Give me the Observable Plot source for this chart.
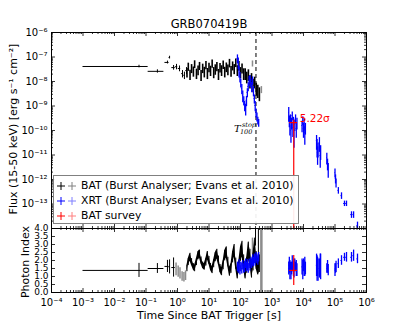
<!DOCTYPE html>
<html><head><meta charset="utf-8">
<script src="https://cdn.jsdelivr.net/npm/d3@7"></script>
<script src="https://cdn.jsdelivr.net/npm/@observablehq/plot@0.6"></script>
<style>
body{margin:0;background:#fff;font-family:"DejaVu Sans",sans-serif;}
#wrap{position:relative;width:407px;height:326px;overflow:hidden;background:#fff;}
#wrap svg{position:absolute;left:0;overflow:visible;}
.lbl{position:absolute;font-size:11px;color:#000;white-space:nowrap;}
.rot{transform:translate(-50%,-50%) rotate(-90deg);}
#legend{position:absolute;left:53px;top:175px;width:244px;height:47px;border:1px solid #808080;background:rgba(255,255,255,0.92);}
#legend .row{position:absolute;left:0;height:14px;font-size:10.8px;line-height:14px;}
#legend .row span{position:absolute;left:27px;white-space:nowrap;}
#legend .row svg{position:absolute;left:2px;top:0;}
</style></head><body><div id="wrap"></div>
<script>
// ---------- data ----------
const titleText = "GRB070419B";
const xTickVals = [1e-4,1e-3,1e-2,1e-1,1e0,1e1,1e2,1e3,1e4,1e5,1e6];
const xTickLabels = ["10⁻⁴","10⁻³","10⁻²","10⁻¹","10⁰","10¹","10²","10³","10⁴","10⁵","10⁶"];
const fluxTickVals = [1e-6,1e-7,1e-8,1e-9,1e-10,1e-11,1e-12,1e-13];
const fluxTickLabels = ["10⁻⁶","10⁻⁷","10⁻⁸","10⁻⁹","10⁻¹⁰","10⁻¹¹","10⁻¹²","10⁻¹³"];
const idxTickVals = [0,0.5,1,1.5,2,2.5,3,3.5,4];
const idxTickLabels = ["0.0","0.5","1.0","1.5","2.0","2.5","3.0","3.5","4.0"];

// BAT flux, early bins with time ranges
const batEarlyT   = [0.06, 0.23, 0.48, 0.56, 0.75, 0.93, 1.16, 1.44, 1.66, 1.93];
const batEarlyTLo = [0.001, 0.117, 0.40, 0.54, 0.66, 0.86, 1.06, 1.36, 1.58, 1.84];
const batEarlyTHi = [0.117, 0.37, 0.54, 0.58, 0.85, 1.02, 1.26, 1.52, 1.75, 2.02];
const batEarlyF   = [4.1e-8, 2.6e-8, 6.0e-8, 9.5e-8, 3.7e-8, 4.0e-8, 3.4e-8, 2.1e-8, 1.8e-8, 2.8e-8];
const batEarlyFErr= [0.5e-8, 0.4e-8, 0.8e-8, 1.2e-8, 0.8e-8, 1.0e-8, 0.9e-8, 0.7e-8, 0.6e-8, 0.9e-8];

// BAT flux / photon index, dense bins
const batT = [2.0,2.2,2.5,2.8,3.2,3.5,4.0,4.5,5.0,5.6,6.3,7.1,8.0,8.9,10,11.2,12.6,14.1,15.8,17.8,20,22.4,25.1,28.2,31.6,35.5,39.8,44.7,50.1,56.2,63.1,70.8,79.4,89.1,100,112,126,141,158,178,200,224,251,282,316,355,398];
const batF = [2.4e-8,4.1e-8,2.0e-8,3.5e-8,2.7e-8,5.2e-8,2.2e-8,3.0e-8,4.4e-8,1.9e-8,3.6e-8,2.6e-8,4.8e-8,2.3e-8,3.9e-8,2.9e-8,5.5e-8,2.5e-8,3.3e-8,4.2e-8,2.1e-8,3.8e-8,3.0e-8,5.0e-8,2.6e-8,4.0e-8,3.2e-8,5.8e-8,2.8e-8,4.5e-8,3.4e-8,6.0e-8,3.0e-8,4.6e-8,2.5e-8,3.6e-8,2.2e-8,2.2e-8,1.6e-8,2.0e-8,1.1e-8,1.4e-8,0.8e-8,1.0e-8,0.55e-8,0.45e-8,0.35e-8];
const batFErr = [1.0e-8,1.5e-8,0.9e-8,1.4e-8,1.2e-8,1.8e-8,1.0e-8,1.3e-8,1.6e-8,0.9e-8,1.5e-8,1.2e-8,1.8e-8,1.1e-8,1.6e-8,1.3e-8,2.0e-8,1.2e-8,1.5e-8,1.7e-8,1.0e-8,1.6e-8,1.4e-8,1.9e-8,1.2e-8,1.7e-8,1.5e-8,2.2e-8,1.3e-8,1.8e-8,1.5e-8,2.3e-8,1.4e-8,1.9e-8,1.2e-8,1.6e-8,1.1e-8,1.1e-8,0.8e-8,1.0e-8,0.6e-8,0.7e-8,0.45e-8,0.5e-8,0.3e-8,0.25e-8,0.2e-8];
const batIdx = [1.5,1.9,2.2,1.9,1.6,1.5,1.9,2.3,2.4,2.0,1.7,1.6,1.9,2.3,2.0,1.6,1.4,1.8,2.2,2.4,2.0,1.5,1.3,1.7,2.3,2.5,1.9,1.3,1.5,2.2,2.6,1.8,1.2,1.6,2.4,2.7,1.9,1.3,1.7,2.6,2.2,1.4,1.9,2.8,2.0,1.6,1.8];
const batIdxErr = [0.2,0.22,0.25,0.22,0.2,0.2,0.22,0.25,0.25,0.22,0.2,0.2,0.24,0.26,0.25,0.22,0.22,0.25,0.28,0.3,0.28,0.25,0.25,0.28,0.32,0.35,0.3,0.28,0.3,0.35,0.4,0.35,0.35,0.4,0.45,0.5,0.45,0.45,0.5,0.55,0.5,0.5,0.55,0.6,0.55,0.5,0.55];

// BAT photon index, early bins
const batIdxEarlyT   = [0.06, 0.23, 0.48, 0.56, 0.75];
const batIdxEarlyTLo = [0.001, 0.117, 0.40, 0.54, 0.66];
const batIdxEarlyTHi = [0.117, 0.37, 0.54, 0.58, 0.85];
const batIdxEarly    = [1.38, 1.5, 1.63, 1.6, 1.56];
const batIdxEarlyErr = [0.44, 0.31, 0.38, 0.44, 0.6];
// BAT low-significance (grey) bins
const batGreyIdxT   = [0.9, 1.05, 1.2, 1.4, 1.6, 1.8, 240];
const batGreyIdx    = [1.45, 1.3, 1.2, 1.0, 0.95, 1.05, 2.9];
const batGreyIdxErr = [0.4, 0.35, 0.35, 0.3, 0.3, 0.3, 0.5];
const batGreyFT   = [240, 460];
const batGreyF    = [5.4e-8, 4.7e-9];
const batGreyFErr = [1.5e-8, 1.5e-9];
// unconstrained BAT index bins near T100
const batWildT = [300, 370];
const batWildIdx = [3.6, 3.3];
const batWildErr = [0.7, 1.8];
const batWideT = [460];
const batWideIdx = [2.0];
const batWideErr = [3.0];

// XRT
const xrtT = [80,85,90,96,102,110,118,127,136,146,155,165,176,188,200,213,227,242,258,275,293,312,333,355,378,
  3400,3550,3700,3850,4000,4200,4400,4600,4800,5000,5300,5600,5900,6200,
  9000,9500,10000,10500,11000,11500,
  26000,27000,28000,29000,32000,34000,35000,
  55000,58000,61000,100000,104000,108000,
  128000,161000,200000,232000,334000,389000,518000];
const xrtTErr = [2,2,2,2,3,3,3,3,4,4,4,4,5,5,5,6,6,6,7,7,7,8,8,9,9,
  60,60,60,60,70,70,70,80,80,80,100,100,100,100,
  200,200,200,200,200,200,
  400,400,400,400,600,600,600,
  1000,1000,1000,2000,2000,2000,
  4000,6000,12000,14000,18000,20000,24000];
const xrtF = [8.7e-8,6.0e-8,2.8e-8,1.6e-8,9.1e-9,5.2e-9,2.7e-9,1.7e-9,1.05e-9,7.9e-10,1.7e-9,3.6e-9,6.3e-9,1.1e-8,1.3e-8,9.1e-9,6.3e-9,1.1e-8,4.3e-9,2.0e-9,1.05e-9,5.4e-10,3.7e-10,2.6e-10,2.1e-10,
  5.4e-10,2.6e-10,1.5e-10,3.1e-10,1.0e-10,2.1e-10,4.1e-10,1.3e-10,2.3e-10,6.3e-11,1.8e-10,3.1e-10,1.2e-10,2.1e-10,
  1.6e-10,2.6e-10,1.2e-10,1.9e-10,8.3e-11,1.3e-10,
  3.9e-11,2.5e-11,1.26e-11,1.9e-11,3.2e-11,9.5e-12,1.5e-11,
  7.9e-12,4.5e-12,2.8e-12,1.9e-12,1.1e-12,7.5e-13,
  3.6e-13,2.2e-13,1.05e-13,1.05e-13,3.7e-14,3.7e-14,1.3e-14];
const xrtFRelErr = [0.4,0.5,0.5,0.45,0.4,0.45,0.5,0.4,0.45,0.5,0.45,0.4,0.4,0.45,0.35,0.4,0.45,0.4,0.45,0.4,0.45,0.4,0.4,0.35,0.35,
  0.6,0.5,0.6,0.4,0.7,0.5,0.4,0.6,0.5,0.7,0.5,0.4,0.6,0.5,
  0.5,0.4,0.6,0.5,0.7,0.5,
  0.6,0.7,0.7,0.6,0.6,0.7,0.6,
  0.5,0.5,0.6,0.4,0.4,0.4,
  0.3,0.3,0.25,0.25,0.3,0.3,0.4];
const xrtIdx = [1.6,1.5,1.7,1.4,1.6,1.5,1.7,1.5,1.6,1.8,1.6,1.7,1.5,1.8,1.7,1.9,1.8,2.0,1.9,2.1,2.0,2.2,2.1,2.0,2.2,
  1.5,1.7,1.4,1.6,1.3,1.5,1.8,1.6,1.4,1.5,1.7,1.6,1.5,1.4,
  1.6,1.4,1.7,1.5,1.6,1.5,
  1.7,1.5,1.6,1.4,1.5,1.7,1.6,
  1.5,1.6,1.4,1.4,1.5,1.6,
  1.8,2.0,2.2,2.2,2.2,2.3,2.1];
const xrtIdxErr = [0.3,0.3,0.35,0.3,0.3,0.35,0.3,0.3,0.35,0.3,0.3,0.35,0.3,0.3,0.35,0.3,0.3,0.35,0.3,0.3,0.35,0.3,0.3,0.3,0.3,
  0.4,0.5,0.6,0.3,0.5,0.4,0.5,0.3,0.4,0.6,0.4,0.3,0.5,0.4,
  0.5,0.6,0.4,0.5,0.6,0.4,
  0.7,0.8,0.6,0.7,0.6,0.7,0.8,
  0.3,0.4,0.35,0.4,0.3,0.35,
  0.3,0.3,0.25,0.3,0.3,0.35,0.3];

// BAT survey
const survT = [4900], survTLo = [3630], survTHi = [6460];
const survF = [2.1e-10], survFLo = [1e-16], survFHi = [2.6e-10];
const survIdx = [1.38], survIdxLo = [0.44], survIdxHi = [2.31];
const survLabel = ["5.22σ"];

// T100 stop
const t100 = [310];
const t100LabelF = [1.2e-10];

// ---------- tables ----------
const batEarlyRows = batEarlyT.map((t,i)=>({t, lo:batEarlyTLo[i], hi:batEarlyTHi[i], f:batEarlyF[i], f1:batEarlyF[i]-batEarlyFErr[i], f2:batEarlyF[i]+batEarlyFErr[i]}));
const batRows = batT.map((t,i)=>({t, f:batF[i], f1:batF[i]-batFErr[i], f2:batF[i]+batFErr[i], p:batIdx[i], p1:batIdx[i]-batIdxErr[i], p2:batIdx[i]+batIdxErr[i]}));
const batIdxEarlyRows = batIdxEarlyT.map((t,i)=>({t, lo:batIdxEarlyTLo[i], hi:batIdxEarlyTHi[i], p:batIdxEarly[i], p1:batIdxEarly[i]-batIdxEarlyErr[i], p2:batIdxEarly[i]+batIdxEarlyErr[i]}));
const greyIdxRows = batGreyIdxT.map((t,i)=>({t, p:batGreyIdx[i], p1:batGreyIdx[i]-batGreyIdxErr[i], p2:batGreyIdx[i]+batGreyIdxErr[i]}));
const greyFRows = batGreyFT.map((t,i)=>({t, f:batGreyF[i], f1:batGreyF[i]-batGreyFErr[i], f2:batGreyF[i]+batGreyFErr[i]}));
const wildRows = batWildT.map((t,i)=>({t, p1:batWildIdx[i]-batWildErr[i], p2:batWildIdx[i]+batWildErr[i]}));
const wideRows = batWideT.map((t,i)=>({t, p1:batWideIdx[i]-batWideErr[i], p2:batWideIdx[i]+batWideErr[i]}));
const xrtRows = xrtT.map((t,i)=>({t, lo:t-xrtTErr[i], hi:t+xrtTErr[i], f:xrtF[i], f1:xrtF[i]*(1-xrtFRelErr[i]), f2:xrtF[i]*(1+xrtFRelErr[i]), p:xrtIdx[i], p1:xrtIdx[i]-xrtIdxErr[i], p2:xrtIdx[i]+xrtIdxErr[i]}));
const survRows = survT.map((t,i)=>({t, lo:survTLo[i], hi:survTHi[i], f:survF[i], f1:survFLo[i], f2:survFHi[i], p:survIdx[i], p1:survIdxLo[i], p2:survIdxHi[i], label:survLabel[i]}));

// ---------- layout ----------
const W = 407, ML = 51, MR = 41, IW = W - ML - MR;
const TOP = 32, MID = 228, BOT = 292;
const H1 = MID - TOP, H2 = BOT - MID;
const BLUE = "#0000ff", RED = "#ff0000", GREY = "#8c8c8c";

const xMinor = [];
for (let k = -4; k < 6; k++) for (let m = 2; m < 10; m++) xMinor.push(m * Math.pow(10, k));
const yMinor = [];
for (let k = -14; k < -6; k++) for (let m = 2; m < 10; m++) yMinor.push(m * Math.pow(10, k));

function frameTicks(xs, ys, ih, len) {
  return [
    Plot.tickX(xs, {x: d=>d, insetTop: ih - len, stroke: "black", strokeWidth: 0.8}),
    Plot.tickX(xs, {x: d=>d, insetBottom: ih - len, stroke: "black", strokeWidth: 0.8}),
    Plot.tickY(ys, {y: d=>d, insetRight: IW - len, stroke: "black", strokeWidth: 0.8}),
    Plot.tickY(ys, {y: d=>d, insetLeft: IW - len, stroke: "black", strokeWidth: 0.8})
  ];
}

const fluxPlot = Plot.plot({
  width: W, height: MID, marginTop: TOP, marginBottom: 0, marginLeft: ML, marginRight: MR,
  style: {fontFamily: "DejaVu Sans, sans-serif", fontSize: "10px", overflow: "visible", background: "transparent"},
  x: {type: "log", domain: [1e-4, 1e6], axis: null},
  y: {type: "log", domain: [1e-14, 1e-6], axis: null},
  marks: [
    Plot.ruleX(t100, {x: d=>d, stroke: "black", strokeWidth: 1, strokeDasharray: "4,3"}),
    // BAT
    Plot.ruleY(batEarlyRows, {y: "f", x1: "lo", x2: "hi", stroke: "black", strokeWidth: 1}),
    Plot.ruleX(batEarlyRows, {x: "t", y1: "f1", y2: "f2", stroke: "black", strokeWidth: 1}),
    Plot.ruleX(batRows, {x: "t", y1: "f1", y2: "f2", stroke: "black", strokeWidth: 1.6}),
    Plot.ruleX(greyFRows, {x: "t", y1: "f1", y2: "f2", stroke: GREY, strokeWidth: 1.5}),
    // XRT
    Plot.ruleX(xrtRows, {x: "t", y1: "f1", y2: "f2", stroke: BLUE, strokeWidth: 1.3, clip: true}),
    Plot.ruleY(xrtRows, {y: "f", x1: "lo", x2: "hi", stroke: BLUE, strokeWidth: 1, clip: true}),
    // BAT survey
    Plot.ruleX(survRows, {x: "t", y1: "f1", y2: "f2", stroke: RED, strokeWidth: 1.2, clip: true}),
    Plot.ruleY(survRows, {y: "f", x1: "lo", x2: "hi", stroke: RED, strokeWidth: 1.2}),
    Plot.text(survRows, {x: "t", y: "f", text: "label", fill: RED, fontSize: 10.5, textAnchor: "start", lineAnchor: "bottom", dx: 6, dy: -1}),
    // T100 label
    Plot.text(t100, {x: d=>d, y: t100LabelF, text: ["T"], fontFamily: "DejaVu Serif, serif", fontStyle: "italic", fontSize: 10, textAnchor: "start", lineAnchor: "bottom", dx: -22, dy: 3}),
    Plot.text(t100, {x: d=>d, y: t100LabelF, text: ["stop"], fontFamily: "DejaVu Serif, serif", fontStyle: "italic", fontSize: 6.5, textAnchor: "start", lineAnchor: "bottom", dx: -14, dy: -2}),
    Plot.text(t100, {x: d=>d, y: t100LabelF, text: ["100"], fontFamily: "DejaVu Serif, serif", fontStyle: "italic", fontSize: 6.5, textAnchor: "start", lineAnchor: "bottom", dx: -16, dy: 5.5}),
    ...frameTicks(xTickVals, fluxTickVals.concat([1e-14]), H1, 4),
    ...frameTicks(xMinor, yMinor, H1, 2),
    Plot.axisY(fluxTickVals, {tickSize: 0, tickPadding: 4, tickFormat: d => fluxTickLabels[fluxTickVals.indexOf(d)], fontSize: 10, label: null}),
    Plot.frame({stroke: "black", strokeWidth: 1})
  ]
});

const idxPlot = Plot.plot({
  width: W, height: 326 - MID, marginTop: 0, marginBottom: 326 - BOT, marginLeft: ML, marginRight: MR,
  style: {fontFamily: "DejaVu Sans, sans-serif", fontSize: "10px", overflow: "visible", background: "transparent"},
  x: {type: "log", domain: [1e-4, 1e6], axis: null},
  y: {domain: [0, 4], axis: null},
  marks: [
    Plot.ruleY(batIdxEarlyRows, {y: "p", x1: "lo", x2: "hi", stroke: "black", strokeWidth: 1}),
    Plot.ruleX(batIdxEarlyRows, {x: "t", y1: "p1", y2: "p2", stroke: "black", strokeWidth: 1}),
    Plot.ruleX(greyIdxRows, {x: "t", y1: "p1", y2: "p2", stroke: GREY, strokeWidth: 1.5}),
    Plot.areaY(batRows, {x: "t", y1: "p1", y2: "p2", fill: "black", curve: "linear"}),
    Plot.ruleX(batRows, {x: "t", y1: "p1", y2: "p2", stroke: "black", strokeWidth: 1}),
    Plot.ruleX(wildRows, {x: "t", y1: "p1", y2: "p2", stroke: "black", strokeWidth: 1, clip: true}),
    Plot.ruleX(wideRows, {x: "t", y1: "p1", y2: "p2", stroke: GREY, strokeWidth: 2.5, clip: true}),
    Plot.ruleX(xrtRows, {x: "t", y1: "p1", y2: "p2", stroke: BLUE, strokeWidth: 1.3}),
    Plot.ruleY(xrtRows, {y: "p", x1: "lo", x2: "hi", stroke: BLUE, strokeWidth: 1}),
    Plot.ruleX(survRows, {x: "t", y1: "p1", y2: "p2", stroke: RED, strokeWidth: 1.2}),
    Plot.ruleY(survRows, {y: "p", x1: "lo", x2: "hi", stroke: RED, strokeWidth: 1.2}),
    ...frameTicks(xTickVals, idxTickVals, H2, 4),
    ...frameTicks(xMinor, [], H2, 2),
    Plot.axisY(idxTickVals, {tickSize: 0, tickPadding: 3, tickFormat: d => idxTickLabels[idxTickVals.indexOf(d)], fontSize: 9, label: null}),
    Plot.axisX(xTickVals, {tickSize: 0, tickPadding: 6, tickFormat: d => xTickLabels[xTickVals.indexOf(d)], fontSize: 10, label: null}),
    Plot.frame({stroke: "black", strokeWidth: 1})
  ]
});

const wrap = document.getElementById("wrap");
fluxPlot.style.top = "0px";
idxPlot.style.top = MID + "px";
wrap.appendChild(fluxPlot);
wrap.appendChild(idxPlot);

function addLabel(text, x, y, rot, size) {
  const d = document.createElement("div");
  d.className = "lbl" + (rot ? " rot" : "");
  d.textContent = text;
  d.style.left = x + "px"; d.style.top = y + "px";
  if (size) d.style.fontSize = size + "px";
  if (!rot) d.style.transform = "translate(-50%,-50%)";
  wrap.appendChild(d);
}
addLabel(titleText, 209, 24, false, 11.5);
addLabel("Flux (15-50 keV) [erg s⁻¹ cm⁻²]", 13, 129, true);
addLabel("Photon Index", 25, 262, true);
addLabel("Time Since BAT Trigger [s]", 209, 315, false);

// legend
const legendItems = [
  {label: "BAT (Burst Analyser; Evans et al. 2010)", c1: "#000000", c2: "#808080"},
  {label: "XRT (Burst Analyser; Evans et al. 2010)", c1: "#0000ff", c2: "#7f7fff"},
  {label: "BAT survey", c1: "#ff0000", c2: "#ff7f7f"}
];
const lg = document.createElement("div");
lg.id = "legend";
legendItems.forEach((it, i) => {
  const r = document.createElement("div");
  r.className = "row";
  r.style.top = (3 + i * 15) + "px";
  r.innerHTML = `<svg width="22" height="14"><g stroke-width="1"><line x1="1" x2="9" y1="7" y2="7" stroke="${it.c1}"/><line x1="5" x2="5" y1="3" y2="11" stroke="${it.c1}"/><line x1="12" x2="20" y1="7" y2="7" stroke="${it.c2}"/><line x1="16" x2="16" y1="3" y2="11" stroke="${it.c2}"/></g></svg><span>${it.label}</span>`;
  lg.appendChild(r);
});
wrap.appendChild(lg);
</script>
</body></html>
